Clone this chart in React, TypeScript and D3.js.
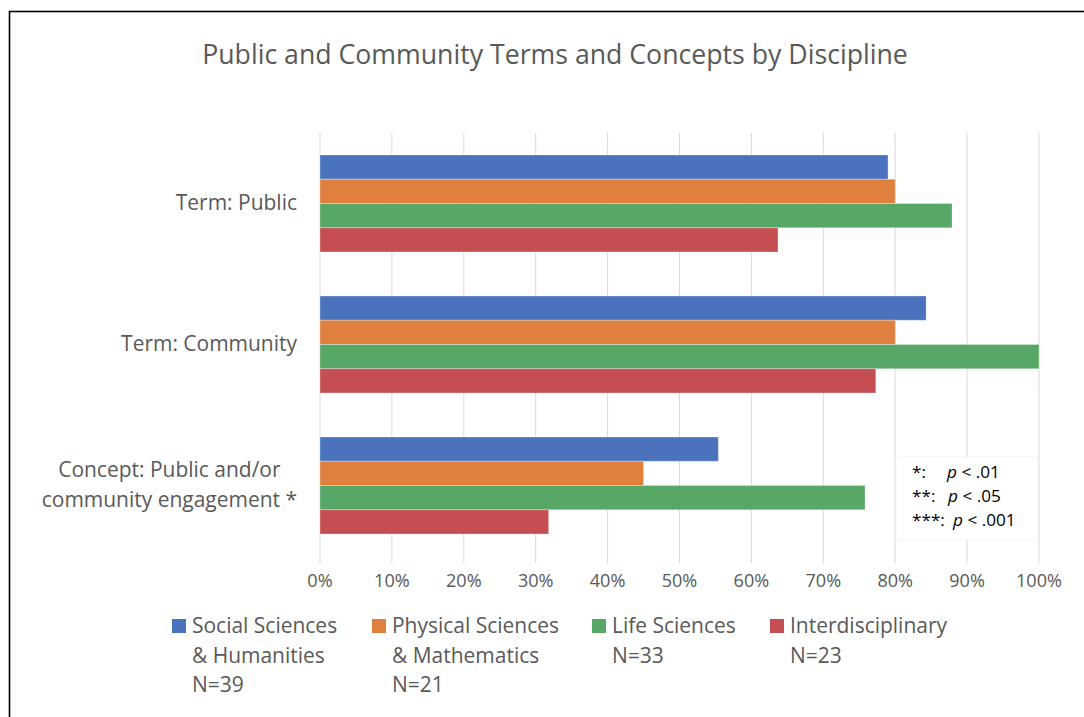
import React from "react";
import * as d3 from "d3";

const categories = ["Term: Public", "Term: Community", "Concept: Public and/or community engagement *"];
const categoryLines = [["Term: Public"], ["Term: Community"], ["Concept: Public and/or", "community engagement *"]];
const seriesNames = ["Social Sciences & Humanities N=39", "Physical Sciences & Mathematics N=21", "Life Sciences N=33", "Interdisciplinary N=23"];
const seriesLegendLines = [
  ["Social Sciences", "& Humanities", "N=39"],
  ["Physical Sciences", "& Mathematics", "N=21"],
  ["Life Sciences", "N=33"],
  ["Interdisciplinary", "N=23"],
];
const socialSciences = [0.79, 0.843, 0.554];
const physicalSciences = [0.80, 0.80, 0.45];
const lifeSciences = [0.879, 1.0, 0.758];
const interdisciplinary = [0.637, 0.773, 0.318];
const seriesValues = [socialSciences, physicalSciences, lifeSciences, interdisciplinary];
const xTicks = [0, 0.1, 0.2, 0.3, 0.4, 0.5, 0.6, 0.7, 0.8, 0.9, 1.0];
const sigLines = [
  ["*:", "p", " < .01"],
  ["**:", "p", " < .05"],
  ["***:", "p", " < .001"],
];
const titleText = "Public and Community Terms and Concepts by Discipline";

const colors = ["#4a72bd", "#e0803f", "#57a767", "#c54e53"];
const FONT = "'Open Sans', 'DejaVu Sans', sans-serif";
const TEXT = "#595959";

let ctx: CanvasRenderingContext2D | null = null;
function measure(text: string, size: number, style = "") {
  if (!ctx) ctx = document.createElement("canvas").getContext("2d");
  if (!ctx) return text.length * size * 0.5;
  ctx.font = `${style} ${size}px 'Open Sans'`;
  return ctx.measureText(text).width;
}
function fit(text: string, target: number, style = "") {
  return (100 * target) / measure(text, 100, style);
}

export default function App() {
  const W = 1084, H = 717;
  const x = d3.scaleLinear().domain([0, 1]).range([320, 1039]);
  const y = d3.scaleBand<string>().domain(categories).range([133, 556]).paddingInner(0.312).paddingOuter(0.156);
  const ys = d3.scaleBand<string>().domain(seriesNames).range([0, y.bandwidth()]).padding(0);

  const titleSize = fit(titleText, 706);
  const labelSize = fit("Term: Community", 176);
  const tickSize = fit("100%", 46);
  const legendSize = fit("Interdisciplinary", 157);
  const sigSize = fit("*** p < .001", 96);

  const legendX = [172, 372, 592, 770];

  return (
    <svg width={W} height={H} style={{ position: "absolute", left: 0, top: 0, background: "#fff" }} fontFamily={FONT}>
      <rect x={0} y={0} width={W} height={H} fill="#fff" />
      <rect x={9.5} y={11.5} width={W + 20} height={H + 20} fill="none" stroke="#000" strokeWidth={1.6} />
      <text x={555} y={64} textAnchor="middle" fontSize={titleSize} fill={TEXT}>{titleText}</text>

      {xTicks.map((t) => (
        <line key={"g" + t} x1={x(t)} x2={x(t)} y1={133} y2={563} stroke="#d9d9d9" strokeWidth={1} />
      ))}
      {xTicks.map((t) => (
        <text key={"t" + t} x={x(t)} y={587} textAnchor="middle" fontSize={tickSize} fill={TEXT}>
          {d3.format(".0%")(t)}
        </text>
      ))}

      {categories.map((c, ci) => (
        <g key={c}>
          {seriesNames.map((s, si) => (
            <rect
              key={s}
              x={x(0)}
              y={(y(c) as number) + (ys(s) as number)}
              width={x(seriesValues[si][ci]) - x(0)}
              height={ys.bandwidth()}
              fill={colors[si]}
              stroke="#ffffff"
              strokeOpacity={0.3}
              strokeWidth={1}
            />
          ))}
        </g>
      ))}

      {categories.map((c, ci) => {
        const lines = categoryLines[ci];
        const cy = (y(c) as number) + y.bandwidth() / 2;
        const maxW = Math.max(...lines.map((l) => measure(l, labelSize)));
        const right = 297;
        return (
          <g key={"l" + c}>
            {lines.map((l, li) => (
              <text
                key={l}
                x={lines.length > 1 ? right - maxW / 2 : right}
                y={cy + 6 + (li - (lines.length - 1) / 2) * 30}
                textAnchor={lines.length > 1 ? "middle" : "end"}
                fontSize={labelSize}
                fill={TEXT}
              >
                {l}
              </text>
            ))}
          </g>
        );
      })}

      <rect x={896} y={457} width={142} height={83} fill="#fff" stroke="#f4f4f4" strokeWidth={1} />
      {sigLines.map((row, i) => (
        <text key={"s" + i} y={478 + i * 24} fontSize={sigSize} fill="#000">
          <tspan x={912}>{row[0]}</tspan>
          <tspan x={[947, 948, 953][i]} fontStyle="italic">{row[1]}</tspan>
          <tspan>{row[2]}</tspan>
        </text>
      ))}

      {seriesNames.map((s, si) => (
        <g key={"lg" + s}>
          <rect x={legendX[si]} y={619} width={14} height={14} fill={colors[si]} />
          {seriesLegendLines[si].map((l, li) => (
            <text key={l} x={legendX[si] + 20} y={633 + li * 29.5} fontSize={legendSize} fill={TEXT}>
              {l}
            </text>
          ))}
        </g>
      ))}
    </svg>
  );
}
